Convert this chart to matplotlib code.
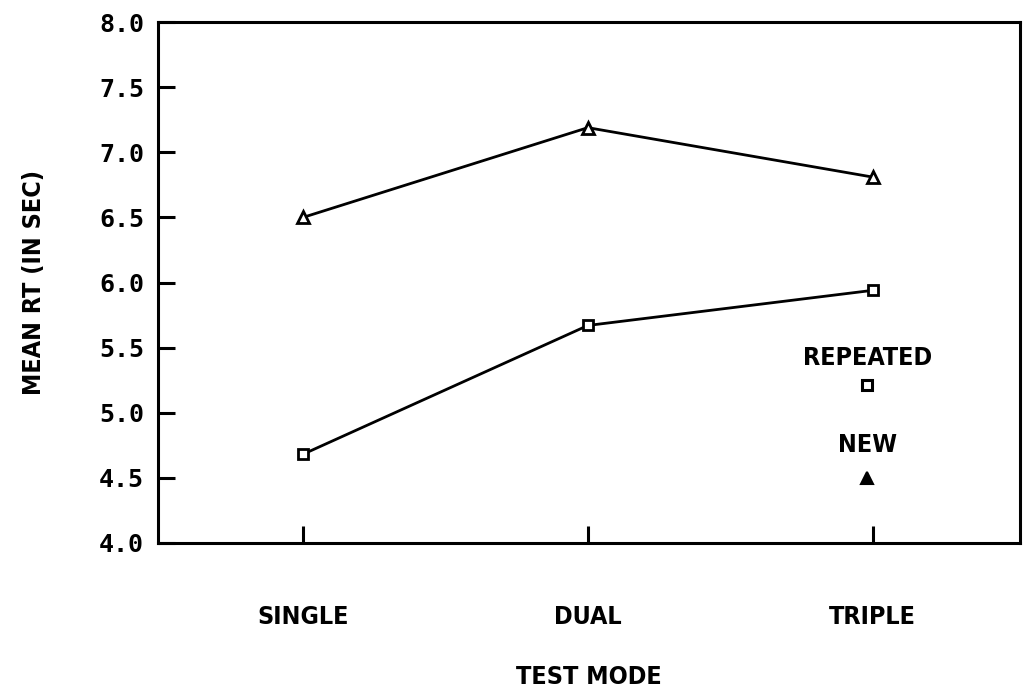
import matplotlib.pyplot as plt

# data
modes = ['SINGLE', 'DUAL', 'TRIPLE']
new_rt = [6.50, 7.19, 6.81]
repeated_rt = [4.68, 5.67, 5.94]
y_ticks = [4.0, 4.5, 5.0, 5.5, 6.0, 6.5, 7.0, 7.5, 8.0]

lab = dict(family='DejaVu Sans', fontstretch='condensed', fontweight='bold', fontsize=18)
num_font = ['DejaVu Sans Mono', 'DejaVu Sans']

fig = plt.figure(figsize=(10.25, 6.95), dpi=100)
ax = fig.add_axes([0.154, 0.219, 0.841, 0.749])

x = list(range(1, len(modes) + 1))
ax.plot(x, new_rt, color='black', lw=2, marker='^', ms=8,
        mfc='white', mec='black', mew=2)
ax.plot(x, repeated_rt, color='black', lw=2, marker='s', ms=7.5,
        mfc='white', mec='black', mew=2)

# in-plot key
ax.text(2.98, 5.42, 'REPEATED', ha='center', va='center', **lab)
ax.plot([2.98], [5.21], marker='s', ms=7, mfc='white', mec='black', mew=2.2, ls='none')
ax.text(2.98, 4.75, 'NEW', ha='center', va='center', **lab)
ax.plot([2.98], [4.50], marker='^', ms=8, mfc='black', mec='black', mew=1.5, ls='none')

ax.set_xlim(0.491, 3.516)
ax.set_ylim(4.0, 8.0)
ax.set_yticks(y_ticks)
ax.set_yticklabels([f'{v:.1f}' for v in y_ticks], family=num_font,
                   fontweight='bold', fontsize=18)
ax.set_xticks(x)
ax.set_xticklabels(modes, **lab)

ax.tick_params(axis='y', direction='in', length=12, width=2.2, pad=10)
ax.tick_params(axis='x', direction='in', length=12, width=2.2, pad=45)

for s in ax.spines.values():
    s.set_linewidth(2.2)

ax.set_xlabel('TEST MODE', labelpad=26, **lab)
ax.set_ylabel('MEAN RT (IN SEC)', labelpad=38, **lab)

fig.savefig('out.png', dpi=100)
